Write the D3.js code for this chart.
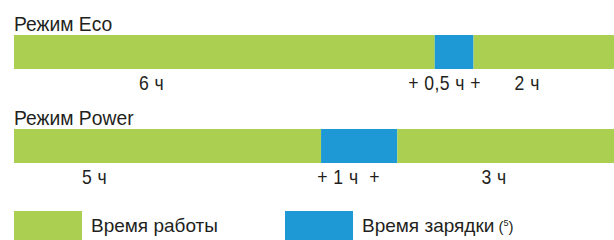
<!DOCTYPE html>
<html>
<head>
<meta charset="utf-8">
<script src="https://cdn.jsdelivr.net/npm/d3@7"></script>
<style>
  body { margin: 0; background: #fff; }
  svg text { font-family: "Liberation Sans", Arial, sans-serif; fill: #231f20; }
</style>
</head>
<body>
<div id="chart"></div>
<script>
// modes, segment lengths (hours, as drawn) and their labels
const modes = ['Режим Eco', 'Режим Power'];
const segmentKinds = ['work', 'charge', 'work'];
const ecoSegments = [5.96, 0.55, 1.99];
const powerSegments = [4.35, 1.08, 3.07];
const ecoLabels = ['6 ч', '+ 0,5 ч +', '2 ч'];
const powerLabels = ['5 ч', '+ 1 ч  +', '3 ч'];
// where each label sits along the bar, in hours
const ecoLabelAt = [1.95, 6.1, 7.27];
const powerLabelAt = [1.14, 4.74, 6.8];
const legendItems = ['Время работы', 'Время зарядки'];

const colors = { work: '#aacf51', charge: '#1f99d5' };

const width = 614, height = 240;
const svg = d3.select('#chart').append('svg')
    .attr('width', width)
    .attr('height', height);

// the original uses a narrow face, squeeze Liberation Sans to get close
function narrowText(parent, x, y, sx) {
    return parent.append('g')
        .attr('transform', `translate(${x}, ${y}) scale(${sx}, 1)`)
        .append('text');
}

const rows = [
    { title: modes[0], segs: ecoSegments, labels: ecoLabels, at: ecoLabelAt },
    { title: modes[1], segs: powerSegments, labels: powerLabels, at: powerLabelAt }
];

const x = d3.scaleLinear()
    .domain([0, d3.sum(ecoSegments)])
    .range([14, 614]);

const y = d3.scaleBand()
    .domain(modes)
    .range([35, 35 + 94 * 2])
    .paddingInner(0);

const barH = 34;

rows.forEach(row => {
    const g = svg.append('g').attr('transform', `translate(0, ${y(row.title)})`);

    narrowText(g, 14, -4, 0.92)
        .attr('font-size', 21)
        .text(row.title);

    let acc = 0;
    const stacked = row.segs.map((v, i) => {
        const d = { start: acc, end: acc + v, kind: segmentKinds[i] };
        acc += v;
        return d;
    });

    g.selectAll('rect')
        .data(stacked)
        .enter().append('rect')
        .attr('x', d => x(d.start))
        .attr('width', d => x(d.end) - x(d.start))
        .attr('y', 0)
        .attr('height', barH)
        .attr('fill', d => colors[d.kind]);

    row.labels.forEach((lbl, i) => {
        narrowText(g, x(row.at[i]), barH + 21, 0.88)
            .attr('text-anchor', 'middle')
            .attr('font-size', 20)
            .attr('letter-spacing', 0.5)
            .style('white-space', 'pre')
            .text(lbl);
    });
});

// legend
const legend = svg.append('g').attr('transform', 'translate(0, 211)');
const lx = [14, 285];
legendItems.forEach((name, i) => {
    legend.append('rect')
        .attr('x', lx[i])
        .attr('y', 0)
        .attr('width', 68)
        .attr('height', 30)
        .attr('fill', colors[segmentKinds[i]]);
    const t = narrowText(legend, lx[i] + 77, 21, 1)
        .attr('font-size', 19)
        .text(name);
    if (i === 1) {
        t.append('tspan').attr('font-size', 15).text(' (');
        t.append('tspan').attr('font-size', 9).attr('dy', -6).text('5');
        t.append('tspan').attr('font-size', 15).attr('dy', 6).text(')');
    }
});
</script>
</body>
</html>
